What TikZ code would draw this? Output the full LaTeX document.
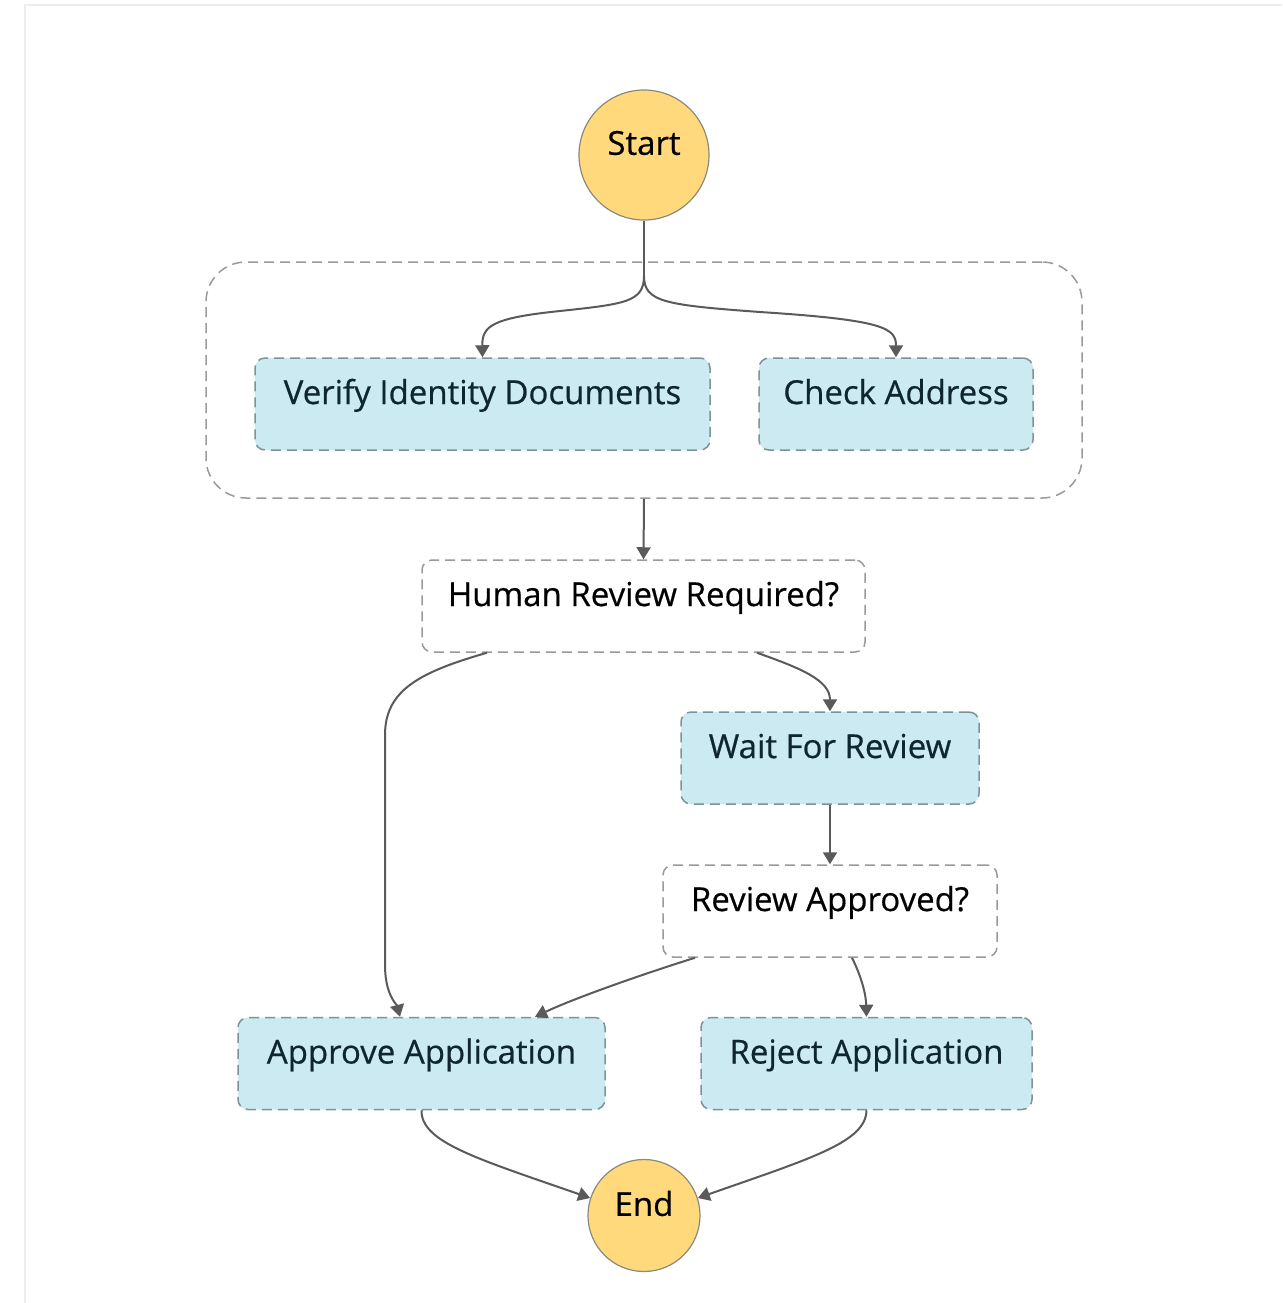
\documentclass[tikz,border=0pt]{standalone}
\usepackage{fontspec}
\setmainfont{Open Sans}[FakeBold=0.5]
\usetikzlibrary{arrows.meta,calc}
\definecolor{termfill}{HTML}{FFD97C}
\definecolor{termline}{HTML}{8A8A7A}
\definecolor{taskfill}{HTML}{CBEAF1}
\definecolor{taskline}{HTML}{7D9397}
\definecolor{choiceline}{HTML}{9A9A9A}
\definecolor{flowline}{HTML}{5A5A5A}
\definecolor{tasktext}{HTML}{0F2530}
\definecolor{framegray}{HTML}{EDEDED}
\begin{document}
\begin{tikzpicture}[x=0.5pt,y=-0.5pt,
  font=\fontsize{16.5}{18}\selectfont,
  terminal/.style={circle,draw=termline,line width=0.6pt,fill=termfill,inner sep=0pt},
  stepbox/.style={rectangle,rounded corners=5pt,inner xsep=0pt,inner ysep=0pt,
    minimum height=46pt,text height=23pt,text depth=23pt,
    line width=0.75pt,dash pattern=on 5pt off 3pt},
  taskbox/.style={stepbox,draw=taskline,fill=taskfill,text=tasktext},
  choicebox/.style={stepbox,draw=choiceline,fill=white,text=black},
  flow/.style={draw=flowline,line width=1pt,-{Triangle[width=7pt,length=6pt]}}
]
\useasboundingbox (0,0) rectangle (1282,1303);
\fill[white] (0,0) rectangle (1282,1303);
\draw[framegray,line width=1pt] (25,1303) -- (25,5) -- (1282,5);

% parallel branch container
\node[draw=choiceline,line width=0.75pt,dash pattern=on 5pt off 3pt,rounded corners=20pt,
  minimum width=438pt,minimum height=118pt,inner sep=0pt] (par) at (644,380) {};

% states
\node[terminal,minimum size=65pt,label={[yshift=6pt,text=black]center:Start}] (start) at (644,155) {};
\node[taskbox,minimum width=227.5pt] (verify) at (482.5,404) {Verify Identity Documents};
\node[taskbox,minimum width=137pt] (check) at (896,404) {Check Address};
\node[choicebox,minimum width=221.5pt] (hr) at (643.5,606) {Human Review Required?};
\node[taskbox,minimum width=149pt] (wait) at (830,758) {Wait For Review};
\node[choicebox,minimum width=167pt] (ra) at (830,911) {Review Approved?};
\node[taskbox,minimum width=183.5pt,minimum height=45.5pt] (approve) at (421.5,1063.5) {Approve Application};
\node[taskbox,minimum width=165.5pt,minimum height=45.5pt] (reject) at (866.5,1063.5) {Reject Application};
\node[terminal,minimum size=56pt,label={[yshift=6pt,text=black]center:End}] (end) at (644,1215.5) {};

% branch split
\coordinate (split) at (644,276);
\draw[draw=flowline,line width=1pt] (start.south) -- (split);
\draw[flow] (split) .. controls (644,302) and (625,304) .. (560,311)
  .. controls (492,318) and (482,326) .. (verify.north);
\draw[flow] (split) .. controls (644,302) and (665,305) .. (760,312)
  .. controls (884,320) and (896,328) .. (check.north);

% transitions
\draw[flow] (par.south) -- (hr.north);
\draw[flow] ([xshift=-78.25pt]hr.south) .. controls (420,672) and (385,690) .. (385,735)
  -- (385,965) .. controls (385,995) and (397,1005) .. ([xshift=-10.75pt]approve.north);
\draw[flow] ([xshift=56.75pt]hr.south) .. controls (800,668) and (830,680) .. (wait.north);
\draw[flow] (wait.south) -- (ra.north);
\draw[flow] ([xshift=-67.5pt]ra.south) .. controls (640,975) and (575,998) .. ([xshift=56.75pt]approve.north);
\draw[flow] ([xshift=11pt]ra.south) .. controls (862,978) and (866,995) .. (reject.north);
\draw[flow] (approve.south) .. controls (421,1142) and (475,1158) .. (end.162);
\draw[flow] (reject.south) .. controls (866,1142) and (812,1158) .. (end.18);
\end{tikzpicture}
\end{document}
